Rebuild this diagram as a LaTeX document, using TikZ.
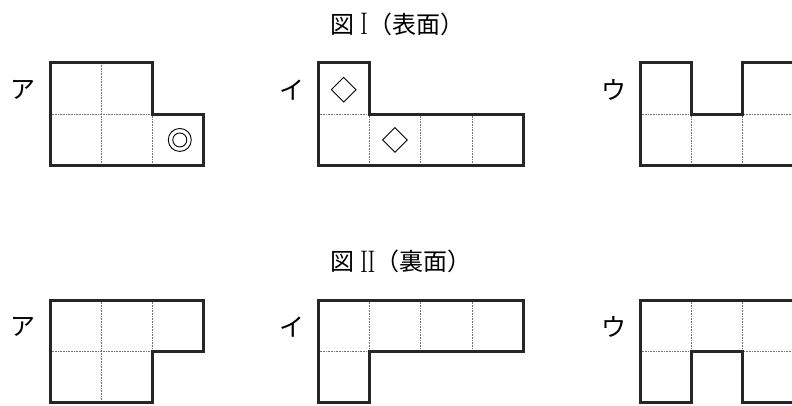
\documentclass[tikz,border=0pt]{standalone}
\usepackage{fontspec}
\usepackage{graphicx}
\usepackage{tikz}
\usetikzlibrary{shapes.geometric, positioning}
\newfontfamily\jpfont{Noto Sans CJK JP}

\begin{document}
\begin{tikzpicture}[x=1pt,y=-1pt]
	
	\tikzset{piece edge/.style={draw=black!85, line width=3pt, line join=miter},
		cell line/.style={draw=black!55, densely dotted, line width=0.6pt},
		kana label/.style={font=\jpfont\fontsize{25}{25}\selectfont, inner sep=0pt},
		title label/.style={font=\fontsize{24}{24}\selectfont, inner sep=0pt, anchor=base west},
		cells/.style={shift={#1}, x=51.3pt, y=-51.3pt},
		gem mark/.style={diamond, draw=black, line width=0.9pt, minimum width=25pt, minimum height=25pt, inner sep=0pt},
		ring mark/.style={circle, draw=black, line width=0.9pt, minimum size=#1, inner sep=0pt}
	}
	
	\useasboundingbox (0,0) rectangle (792,406);
	
	\node[title label] (title1) at (330,33.5) {{\jpfont 図}\hspace{6pt}\raisebox{-1.5pt}{\scalebox{1}[1.3]{I}}{\jpfont （表面）}};
	\node[title label] (title2) at (330,270.5) {{\jpfont 図}\hspace{6pt}\raisebox{-1.5pt}{\scalebox{1}[1.3]{I\kern-0.5pt I}}{\jpfont （裏面）}};
	
	\node[kana label] (a1) at (23,90) {ア};
	\node[kana label] (i1) at (292,90) {イ};
	\node[kana label] (u1) at (614,90) {ウ};
	\node[kana label] (a2) at (23,327) {ア};
	\node[kana label] (i2) at (292,327) {イ};
	\node[kana label] (u2) at (614,327) {ウ};
	
	% front
	\begin{scope}[cells={(50,63)}]
		\begin{scope}
			\clip (0,0) -- (2,0) -- (2,1) -- (3,1) -- (3,2) -- (0,2) -- cycle;
			\foreach \i in {1,2} \draw[cell line] (\i,0) -- (\i,2);
			\draw[cell line] (0,1) -- (3,1);
		\end{scope}
		\draw[piece edge] (0,0) -- (2,0) -- (2,1) -- (3,1) -- (3,2) -- (0,2) -- cycle;
		\node[ring mark=23pt] (ringout) at (2.53,1.5) {};
		\node[ring mark=14pt] (ringin) at (ringout) {};
	\end{scope}
	
	\begin{scope}[cells={(318,63)}]
		\begin{scope}
			\clip (0,0) -- (1,0) -- (1,1) -- (4,1) -- (4,2) -- (0,2) -- cycle;
			\foreach \i in {1,2,3} \draw[cell line] (\i,0) -- (\i,2);
			\draw[cell line] (0,1) -- (4,1);
		\end{scope}
		\draw[piece edge] (0,0) -- (1,0) -- (1,1) -- (4,1) -- (4,2) -- (0,2) -- cycle;
		\node[gem mark] (gem1) at (0.5,0.52) {};
		\node[gem mark] (gem2) at (1.5,1.5) {};
	\end{scope}
	
	\begin{scope}[cells={(640,63)}]
		\begin{scope}
			\clip (0,0) -- (1,0) -- (1,1) -- (2,1) -- (2,0) -- (3,0) -- (3,2) -- (0,2) -- cycle;
			\foreach \i in {1,2} \draw[cell line] (\i,0) -- (\i,2);
			\draw[cell line] (0,1) -- (3,1);
		\end{scope}
		\draw[piece edge] (0,0) -- (1,0) -- (1,1) -- (2,1) -- (2,0) -- (3,0) -- (3,2) -- (0,2) -- cycle;
	\end{scope}
	
	% back
	\begin{scope}[cells={(50,300)}]
		\begin{scope}
			\clip (0,0) -- (3,0) -- (3,1) -- (2,1) -- (2,2) -- (0,2) -- cycle;
			\foreach \i in {1,2} \draw[cell line] (\i,0) -- (\i,2);
			\draw[cell line] (0,1) -- (3,1);
		\end{scope}
		\draw[piece edge] (0,0) -- (3,0) -- (3,1) -- (2,1) -- (2,2) -- (0,2) -- cycle;
	\end{scope}
	
	\begin{scope}[cells={(318,300)}]
		\begin{scope}
			\clip (0,0) -- (4,0) -- (4,1) -- (1,1) -- (1,2) -- (0,2) -- cycle;
			\foreach \i in {1,2,3} \draw[cell line] (\i,0) -- (\i,2);
			\draw[cell line] (0,1) -- (4,1);
		\end{scope}
		\draw[piece edge] (0,0) -- (4,0) -- (4,1) -- (1,1) -- (1,2) -- (0,2) -- cycle;
	\end{scope}
	
	\begin{scope}[cells={(640,300)}]
		\begin{scope}
			\clip (0,0) -- (3,0) -- (3,2) -- (2,2) -- (2,1) -- (1,1) -- (1,2) -- (0,2) -- cycle;
			\foreach \i in {1,2} \draw[cell line] (\i,0) -- (\i,2);
			\draw[cell line] (0,1) -- (3,1);
		\end{scope}
		\draw[piece edge] (0,0) -- (3,0) -- (3,2) -- (2,2) -- (2,1) -- (1,1) -- (1,2) -- (0,2) -- cycle;
	\end{scope}
	
\end{tikzpicture}
\end{document}
